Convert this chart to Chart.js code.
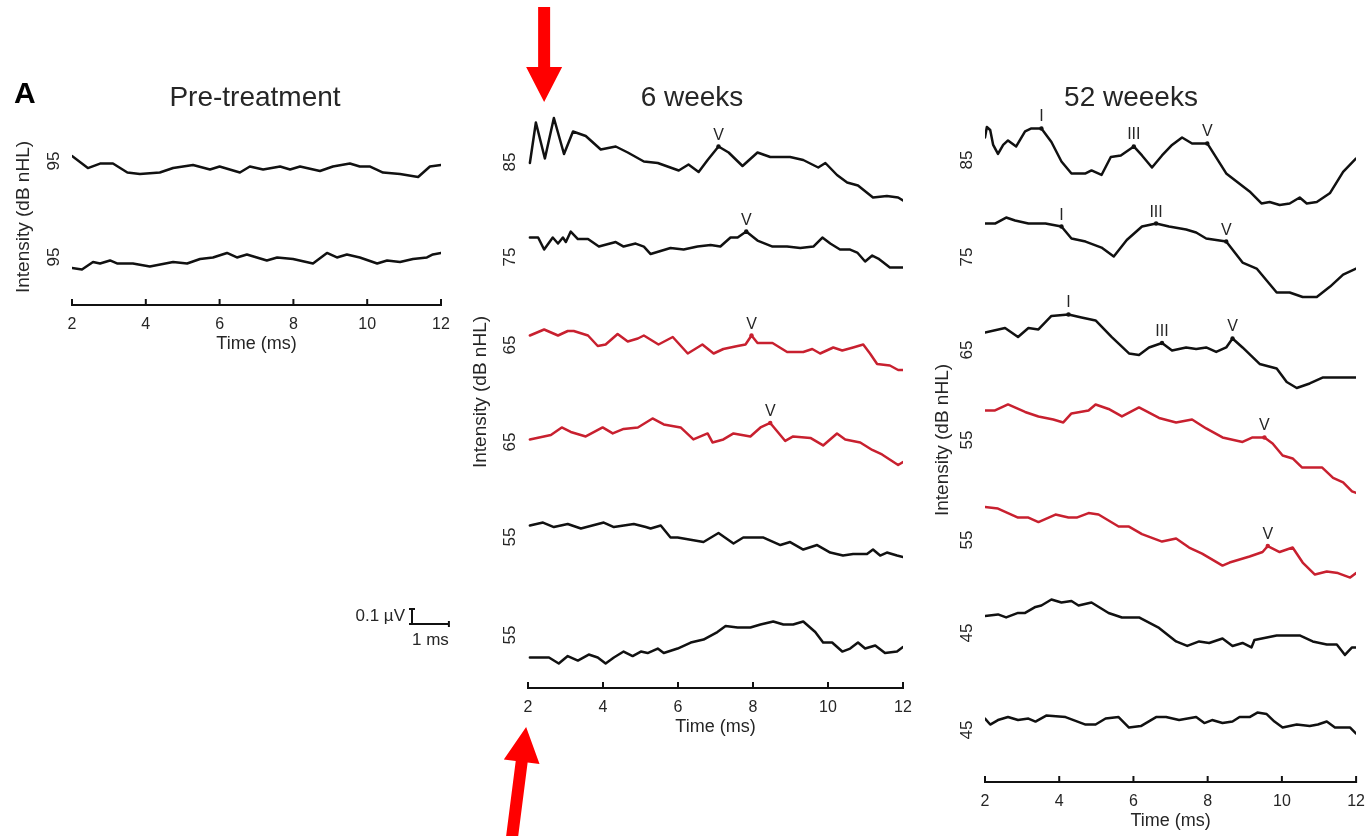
<!DOCTYPE html>
<html>
<head>
<meta charset="utf-8">
<script src="https://cdn.jsdelivr.net/npm/chart.js@4.4.1/dist/chart.umd.min.js"></script>
<style>
  body { margin: 0; background: #fff; width: 1367px; height: 836px; overflow: hidden; position: relative; }
  canvas { position: absolute; top: 0; }
</style>
</head>
<body>
<canvas id="pre" width="470" height="836" style="left:0px"></canvas>
<canvas id="w6" width="460" height="836" style="left:470px"></canvas>
<canvas id="w52" width="437" height="836" style="left:930px"></canvas>
<script>
// ABR waveforms, time in ms, amplitude in µV (relative to each trace's own baseline)

// Pre-treatment, 95 dB nHL (x2)
const PRE_A_T = [2.0, 2.43, 2.76, 3.11, 3.5, 3.84, 4.38, 4.74, 5.28, 5.74, 6.0, 6.55, 6.82, 7.18, 7.64, 7.91, 8.18, 8.72, 9.07, 9.53, 9.8, 10.08, 10.43, 10.89, 11.38, 11.7, 12.0];
const PRE_A_V = [0.08, 0, 0.03, 0.03, -0.03, -0.04, -0.03, 0, 0.02, -0.01, 0.01, -0.03, 0.01, -0.01, 0.01, -0.01, 0.01, -0.02, 0.01, 0.03, 0.01, 0.01, -0.03, -0.04, -0.06, 0.01, 0.02];
const PRE_B_T = [2.0, 2.27, 2.57, 2.76, 3.03, 3.22, 3.65, 4.11, 4.74, 5.12, 5.47, 5.82, 6.2, 6.47, 6.74, 7.28, 7.56, 7.99, 8.53, 8.91, 9.18, 9.45, 9.8, 10.27, 10.54, 10.89, 11.24, 11.62, 11.78, 12.0];
const PRE_B_V = [-0.04, -0.05, 0, -0.01, 0.01, -0.01, -0.01, -0.03, 0, -0.01, 0.02, 0.03, 0.06, 0.03, 0.05, 0.01, 0.03, 0.02, -0.01, 0.06, 0.03, 0.05, 0.03, -0.01, 0.01, 0, 0.02, 0.03, 0.05, 0.06];
const PRE_DB = ["95", "95"];

// 6 weeks
const W6_85_T = [2.05, 2.21, 2.45, 2.69, 2.96, 3.2, 3.54, 3.94, 4.34, 4.66, 5.09, 5.46, 6.02, 6.28, 6.55, 6.79, 7.08, 7.35, 7.72, 8.12, 8.46, 8.99, 9.34, 9.74, 9.93, 10.24, 10.51, 10.8, 11.2, 11.57, 11.87, 12.0];
const W6_85_V = [-0.02, 0.25, 0.01, 0.28, 0.04, 0.19, 0.16, 0.07, 0.09, 0.05, -0.01, -0.02, -0.07, -0.03, -0.08, 0, 0.09, 0.05, -0.04, 0.05, 0.02, 0.02, 0, -0.05, -0.02, -0.1, -0.15, -0.17, -0.25, -0.24, -0.25, -0.27];
const W6_75_T = [2.05, 2.27, 2.43, 2.66, 2.8, 2.93, 3.01, 3.14, 3.33, 3.6, 3.89, 4.34, 4.55, 4.87, 5.09, 5.27, 5.8, 6.15, 6.52, 6.87, 7.13, 7.4, 7.59, 7.82, 8.12, 8.52, 8.91, 9.26, 9.61, 9.85, 10.06, 10.32, 10.59, 10.78, 10.99, 11.18, 11.34, 11.65, 12.0];
const W6_75_V = [0.05, 0.05, -0.03, 0.05, 0.01, 0.05, 0.02, 0.09, 0.04, 0.04, -0.01, 0.02, -0.01, 0.01, -0.01, -0.06, -0.02, -0.03, -0.01, 0, -0.01, 0.05, 0.05, 0.09, 0.03, -0.01, -0.01, -0.02, -0.01, 0.05, 0.01, -0.03, -0.03, -0.05, -0.11, -0.07, -0.09, -0.15, -0.15];
const W6_65A_T = [2.05, 2.43, 2.8, 3.06, 3.22, 3.6, 3.86, 4.07, 4.39, 4.66, 4.93, 5.09, 5.48, 5.86, 6.26, 6.65, 6.95, 7.21, 7.59, 7.8, 7.96, 8.12, 8.52, 8.91, 9.34, 9.58, 9.79, 10.14, 10.38, 10.67, 10.94, 11.12, 11.31, 11.65, 11.87, 12.0];
const W6_65A_V = [0.03, 0.07, 0.03, 0.06, 0.06, 0.03, -0.04, -0.03, 0.04, -0.01, 0.01, 0.03, -0.03, 0.02, -0.09, -0.03, -0.09, -0.06, -0.04, -0.03, 0.03, -0.02, -0.02, -0.08, -0.08, -0.06, -0.09, -0.05, -0.07, -0.05, -0.03, -0.09, -0.16, -0.17, -0.2, -0.2];
const W6_65B_T = [2.05, 2.61, 2.9, 3.14, 3.54, 3.99, 4.26, 4.55, 4.93, 5.32, 5.62, 6.07, 6.41, 6.79, 6.92, 7.21, 7.48, 7.93, 8.2, 8.46, 8.86, 9.07, 9.53, 9.87, 10.24, 10.46, 10.86, 11.18, 11.44, 11.87, 12.0];
const W6_65B_V = [-0.03, 0, 0.05, 0.02, -0.01, 0.05, 0.01, 0.04, 0.05, 0.11, 0.07, 0.05, -0.03, 0.01, -0.05, -0.03, 0.01, -0.01, 0.05, 0.08, -0.04, -0.01, -0.02, -0.07, 0.01, -0.03, -0.05, -0.1, -0.13, -0.2, -0.18];
const W6_55A_T = [2.05, 2.4, 2.69, 3.06, 3.41, 4.02, 4.29, 4.82, 5.14, 5.27, 5.54, 5.8, 5.99, 6.68, 7.08, 7.48, 7.74, 8.01, 8.28, 8.73, 8.99, 9.34, 9.71, 10.06, 10.4, 10.67, 11.04, 11.2, 11.39, 11.57, 11.84, 12.0];
const W6_55A_V = [0.03, 0.05, 0.02, 0.04, 0.01, 0.05, 0.02, 0.04, 0.02, 0.01, 0.03, -0.05, -0.05, -0.08, -0.02, -0.09, -0.05, -0.05, -0.05, -0.1, -0.08, -0.13, -0.1, -0.15, -0.17, -0.16, -0.16, -0.13, -0.17, -0.15, -0.17, -0.18];
const W6_55B_T = [2.05, 2.56, 2.82, 3.06, 3.33, 3.62, 3.86, 4.07, 4.29, 4.55, 4.79, 5.01, 5.19, 5.46, 5.62, 5.99, 6.34, 6.68, 7.05, 7.27, 7.59, 7.93, 8.2, 8.54, 8.81, 9.07, 9.34, 9.66, 9.87, 10.11, 10.38, 10.59, 10.8, 10.99, 11.26, 11.52, 11.84, 12.0];
const W6_55B_V = [-0.05, -0.05, -0.09, -0.04, -0.07, -0.03, -0.05, -0.09, -0.05, -0.01, -0.04, -0.01, -0.02, 0.01, -0.02, 0.01, 0.05, 0.07, 0.12, 0.16, 0.15, 0.15, 0.17, 0.19, 0.17, 0.17, 0.19, 0.12, 0.05, 0.05, -0.01, 0.01, 0.05, 0.01, 0.03, -0.02, -0.01, 0.02];
const W6_DB = ["85", "75", "65", "65", "55", "55"];

// 52 weeks
const W52_85_T = [2.0, 2.05, 2.14, 2.22, 2.35, 2.49, 2.62, 2.84, 3.08, 3.25, 3.52, 3.79, 4.06, 4.33, 4.71, 4.87, 5.14, 5.39, 5.66, 6.01, 6.23, 6.5, 6.77, 7.04, 7.31, 7.58, 7.99, 8.5, 9.13, 9.45, 9.67, 9.94, 10.21, 10.48, 10.67, 10.94, 11.3, 11.65, 12.0];
const W52_85_V = [0.15, 0.22, 0.2, 0.1, 0.04, 0.1, 0.13, 0.09, 0.19, 0.21, 0.21, 0.12, -0.01, -0.09, -0.09, -0.07, -0.1, 0.02, 0.03, 0.09, 0.03, -0.05, 0.03, 0.1, 0.15, 0.11, 0.11, -0.09, -0.21, -0.29, -0.28, -0.3, -0.29, -0.25, -0.29, -0.28, -0.22, -0.08, 0.01];
const W52_75_T = [2.0, 2.27, 2.57, 2.81, 3.17, 3.63, 4.06, 4.33, 4.71, 5.14, 5.47, 5.82, 6.23, 6.61, 6.96, 7.42, 7.69, 7.96, 8.5, 8.94, 9.32, 9.86, 10.21, 10.56, 10.94, 11.3, 11.65, 12.0];
const W52_75_V = [0.11, 0.11, 0.15, 0.13, 0.11, 0.11, 0.09, 0.01, -0.01, -0.05, -0.11, 0, 0.09, 0.11, 0.09, 0.07, 0.05, 0.01, -0.01, -0.15, -0.19, -0.35, -0.35, -0.38, -0.38, -0.31, -0.23, -0.19];
const W52_65_T = [2.0, 2.54, 2.89, 3.17, 3.44, 3.79, 4.25, 4.6, 4.98, 5.41, 5.88, 6.15, 6.42, 6.77, 7.04, 7.42, 7.69, 7.96, 8.23, 8.5, 8.67, 8.94, 9.4, 9.86, 10.13, 10.4, 10.75, 11.11, 11.57, 12.0];
const W52_65_V = [0.05, 0.08, 0.02, 0.08, 0.07, 0.16, 0.17, 0.15, 0.13, 0.02, -0.09, -0.1, -0.05, -0.02, -0.07, -0.05, -0.06, -0.05, -0.08, -0.05, 0.01, -0.05, -0.16, -0.19, -0.28, -0.32, -0.29, -0.25, -0.25, -0.25];
const W52_55A_T = [2.0, 2.27, 2.62, 3.08, 3.44, 3.84, 4.11, 4.33, 4.79, 4.98, 5.33, 5.69, 6.15, 6.69, 7.15, 7.58, 7.96, 8.4, 8.94, 9.21, 9.53, 9.75, 10.02, 10.29, 10.54, 10.75, 11.08, 11.38, 11.65, 11.89, 12.0];
const W52_55A_V = [0.13, 0.13, 0.17, 0.12, 0.09, 0.07, 0.05, 0.11, 0.13, 0.17, 0.14, 0.09, 0.15, 0.08, 0.05, 0.07, 0.01, -0.05, -0.08, -0.05, -0.05, -0.09, -0.17, -0.19, -0.25, -0.25, -0.25, -0.32, -0.35, -0.41, -0.42];
const W52_55B_T = [2.0, 2.35, 2.89, 3.17, 3.44, 3.9, 4.25, 4.47, 4.79, 5.06, 5.6, 5.88, 6.23, 6.77, 7.15, 7.5, 7.85, 8.4, 8.59, 9.13, 9.48, 9.62, 9.94, 10.29, 10.56, 10.89, 11.21, 11.51, 11.84, 12.0];
const W52_55B_V = [0.12, 0.11, 0.05, 0.05, 0.02, 0.07, 0.05, 0.05, 0.08, 0.07, -0.01, -0.01, -0.06, -0.11, -0.09, -0.15, -0.19, -0.27, -0.25, -0.21, -0.18, -0.14, -0.18, -0.15, -0.25, -0.33, -0.31, -0.32, -0.35, -0.32];
const W52_45A_T = [2.0, 2.35, 2.57, 2.89, 3.08, 3.36, 3.52, 3.79, 4.06, 4.33, 4.52, 4.87, 5.33, 5.69, 6.15, 6.69, 7.15, 7.45, 7.77, 8.04, 8.4, 8.67, 8.94, 9.18, 9.26, 9.86, 10.21, 10.48, 10.83, 11.21, 11.48, 11.7, 11.89, 12.0];
const W52_45A_V = [0.06, 0.07, 0.05, 0.08, 0.08, 0.12, 0.13, 0.17, 0.15, 0.16, 0.13, 0.15, 0.08, 0.05, 0.05, -0.02, -0.11, -0.14, -0.11, -0.12, -0.09, -0.14, -0.12, -0.15, -0.1, -0.07, -0.07, -0.07, -0.11, -0.13, -0.13, -0.2, -0.15, -0.15];
const W52_45B_T = [2.0, 2.14, 2.35, 2.62, 2.89, 3.17, 3.36, 3.65, 4.17, 4.71, 4.98, 5.25, 5.6, 5.88, 6.2, 6.61, 6.88, 7.23, 7.69, 7.91, 8.12, 8.4, 8.67, 8.86, 9.13, 9.34, 9.59, 9.8, 10.02, 10.4, 10.75, 10.97, 11.21, 11.43, 11.84, 12.0];
const W52_45B_V = [0.01, -0.03, 0, 0.02, 0, 0.01, -0.01, 0.03, 0.02, -0.03, -0.03, 0.01, 0.02, -0.05, -0.04, 0.02, 0.02, 0, 0.02, -0.02, 0, -0.02, -0.01, 0.02, 0.02, 0.05, 0.04, -0.01, -0.05, -0.03, -0.04, -0.03, -0.01, -0.05, -0.05, -0.09];
const W52_DB = ["85", "75", "65", "55", "55", "45", "45"];

const X_TICKS_STEP = 2;
const PX_PER_UV = 150;          // vertical gain: 0.1 µV = 15 px
const FONT = '"Liberation Sans", Arial, Helvetica, sans-serif';
const INK = "#262626";
const BLACK = "#111111";
const RED = "#c8202f";
const ARROW = "#ff0000";
const X_AXIS_H = 50;
const Y_TITLE_SIZE = 19;
const Y_TITLE_HALF = Y_TITLE_SIZE * 1.2 / 2;

function decor(p) {
  return {
    id: "decor_" + p.id,
    afterDraw(chart) {
      const ctx = chart.ctx, xs = chart.scales.x, ys = chart.scales.y;
      ctx.save();
      // inward ticks on the time axis
      ctx.strokeStyle = BLACK;
      ctx.lineWidth = 2;
      xs.ticks.forEach(tk => {
        const px = xs.getPixelForValue(tk.value);
        ctx.beginPath();
        ctx.moveTo(px, xs.top + 1);
        ctx.lineTo(px, xs.top - 6);
        ctx.stroke();
      });
      // panel title
      ctx.fillStyle = INK;
      ctx.font = "28px " + FONT;
      ctx.textAlign = "center";
      ctx.textBaseline = "alphabetic";
      ctx.fillText(p.title, p.titleCx - p.left, 106);
      // wave labels I / III / V
      ctx.font = "16px " + FONT;
      chart.data.datasets.forEach(ds => {
        ds.peaks.forEach(([name, t]) => {
          const pt = ds.data.find(d => d.x === t);
          if (!pt) return;
          ctx.fillText(name, xs.getPixelForValue(pt.x), ys.getPixelForValue(pt.y) - 7);
        });
      });
      if (p.extra) p.extra(chart, ctx, xs, ys);
      ctx.restore();
    }
  };
}

const panels = [
  {
    id: "pre", left: 0, width: 470, title: "Pre-treatment", titleCx: 255,
    area: { l: 72, r: 441, t: 129, b: 305 }, titleX: 24, labelX: 53,
    labels: PRE_DB, labelPos: [0.96, 0.32],
    traces: [
      { t: PRE_A_T, v: PRE_A_V, off: 0.913 },
      { t: PRE_B_T, v: PRE_B_V, off: 0.287 }
    ],
    extra(chart, ctx, xs, ys) {
      ctx.fillStyle = "#000";
      ctx.font = "bold 30px " + FONT;
      ctx.textAlign = "left";
      ctx.fillText("A", 14, 103);
      // scale bar 0.1 µV / 1 ms
      const bx = 412, by = 624;
      const w = xs.getPixelForValue(3) - xs.getPixelForValue(2);
      const h = ys.getPixelForValue(0) - ys.getPixelForValue(0.1);
      ctx.strokeStyle = BLACK;
      ctx.lineWidth = 2;
      ctx.beginPath();
      ctx.moveTo(bx, by); ctx.lineTo(bx, by - h);
      ctx.moveTo(bx - 3, by - h); ctx.lineTo(bx + 3, by - h);
      ctx.moveTo(bx - 3, by); ctx.lineTo(bx + w, by);
      ctx.moveTo(bx + w, by - 3); ctx.lineTo(bx + w, by + 3);
      ctx.stroke();
      ctx.fillStyle = INK;
      ctx.font = "17px " + FONT;
      ctx.textAlign = "right";
      ctx.textBaseline = "middle";
      ctx.fillText("0.1 µV", bx - 7, by - 8);
      ctx.textAlign = "center";
      ctx.fillText("1 ms", bx + w / 2, by + 16);
    }
  },
  {
    id: "w6", left: 470, width: 460, title: "6 weeks", titleCx: 692,
    area: { l: 528, r: 903, t: 96, b: 688 }, titleX: 481, labelX: 509,
    labels: W6_DB, labelPos: [3.507, 2.873, 2.287, 1.64, 1.007, 0.353],
    traces: [
      { t: W6_85_T, v: W6_85_V, off: 3.52, peaks: [["V", 7.08]] },
      { t: W6_75_T, v: W6_75_V, off: 2.953, peaks: [["V", 7.82]] },
      { t: W6_65A_T, v: W6_65A_V, off: 2.32, red: true, peaks: [["V", 7.96]] },
      { t: W6_65B_T, v: W6_65B_V, off: 1.687, red: true, peaks: [["V", 8.46]] },
      { t: W6_55A_T, v: W6_55A_V, off: 1.053 },
      { t: W6_55B_T, v: W6_55B_V, off: 0.253 }
    ],
    extra(chart, ctx, xs) {
      ctx.fillStyle = ARROW;
      // arrow from the top onto the stimulus artefact
      const cx = xs.getPixelForValue(2.43);
      ctx.beginPath();
      ctx.moveTo(cx - 6, 7); ctx.lineTo(cx + 6, 7); ctx.lineTo(cx + 6, 67);
      ctx.lineTo(cx + 18, 67); ctx.lineTo(cx, 102); ctx.lineTo(cx - 18, 67);
      ctx.lineTo(cx - 6, 67);
      ctx.closePath();
      ctx.fill();
      // arrow from below onto the 2 ms tick
      const tx = xs.getPixelForValue(1.95), ty = 727;
      const ux = 0.127, uy = -0.992, nx = 0.992, ny = 0.127;
      const hx = tx - 35 * ux, hy = ty - 35 * uy;
      const ex = hx - 90 * ux, ey = hy - 90 * uy;
      ctx.beginPath();
      ctx.moveTo(tx, ty);
      ctx.lineTo(hx + 18 * nx, hy + 18 * ny);
      ctx.lineTo(hx + 6 * nx, hy + 6 * ny);
      ctx.lineTo(ex + 6 * nx, ey + 6 * ny);
      ctx.lineTo(ex - 6 * nx, ey - 6 * ny);
      ctx.lineTo(hx - 6 * nx, hy - 6 * ny);
      ctx.lineTo(hx - 18 * nx, hy - 18 * ny);
      ctx.closePath();
      ctx.fill();
    }
  },
  {
    id: "w52", left: 930, width: 437, title: "52 weeeks", titleCx: 1131,
    area: { l: 985, r: 1358, t: 98, b: 782 }, titleX: 943, labelX: 966,
    labels: W52_DB, labelPos: [4.147, 3.5, 2.88, 2.28, 1.613, 0.993, 0.347],
    traces: [
      { t: W52_85_T, v: W52_85_V, off: 4.147, peaks: [["I", 3.52], ["III", 6.01], ["V", 7.99]] },
      { t: W52_75_T, v: W52_75_V, off: 3.613, peaks: [["I", 4.06], ["III", 6.61], ["V", 8.5]] },
      { t: W52_65_T, v: W52_65_V, off: 2.947, peaks: [["I", 4.25], ["III", 6.77], ["V", 8.67]] },
      { t: W52_55A_T, v: W52_55A_V, off: 2.347, red: true, peaks: [["V", 9.53]] },
      { t: W52_55B_T, v: W52_55B_V, off: 1.713, red: true, peaks: [["V", 9.62]] },
      { t: W52_45A_T, v: W52_45A_V, off: 1.047 },
      { t: W52_45B_T, v: W52_45B_V, off: 0.413 }
    ]
  }
];

function build(p) {
  const padLeft = p.titleX - Y_TITLE_HALF - p.left;
  const datasets = p.traces.map(tr => {
    const peaks = tr.peaks || [];
    return {
      data: tr.t.map((t, i) => ({ x: t, y: tr.off + tr.v[i] })),
      borderColor: tr.red ? RED : BLACK,
      backgroundColor: tr.red ? RED : BLACK,
      borderWidth: 2.5,
      borderJoinStyle: "round",
      borderCapStyle: "round",
      pointRadius: tr.t.map(t => peaks.some(pk => pk[1] === t) ? 2.2 : 0),
      pointBorderWidth: 0,
      tension: 0,
      fill: false,
      peaks: peaks
    };
  });

  new Chart(document.getElementById(p.id), {
    type: "line",
    data: { datasets },
    options: {
      responsive: false,
      animation: false,
      devicePixelRatio: 1,
      events: [],
      layout: {
        padding: {
          left: padLeft,
          right: p.left + p.width - p.area.r,
          top: p.area.t,
          bottom: 836 - p.area.b - X_AXIS_H
        }
      },
      plugins: { legend: { display: false }, tooltip: { enabled: false }, title: { display: false } },
      scales: {
        x: {
          type: "linear", min: 2, max: 12,
          grid: { display: false },
          border: { display: true, color: BLACK, width: 2 },
          ticks: { stepSize: X_TICKS_STEP, padding: 2, color: INK, maxRotation: 0, autoSkip: false,
                   font: { family: FONT, size: 16 } },
          title: { display: true, text: "Time (ms)", color: INK, padding: 0, font: { family: FONT, size: 18 } },
          afterFit: s => { s.height = X_AXIS_H; }
        },
        y: {
          type: "linear", min: 0, max: (p.area.b - p.area.t) / PX_PER_UV,
          grid: { display: false },
          border: { display: false },
          afterBuildTicks: s => { s.ticks = p.labelPos.map(v => ({ value: v })); },
          ticks: {
            autoSkip: false, minRotation: 90, maxRotation: 90, crossAlign: "center",
            padding: p.area.l - p.labelX - 18.45, color: INK,
            font: { family: FONT, size: 17 },
            callback: v => p.labels[p.labelPos.indexOf(v)]
          },
          title: { display: true, text: "Intensity (dB nHL)", color: INK, padding: 0,
                   font: { family: FONT, size: Y_TITLE_SIZE } },
          afterFit: s => { s.width = p.area.l - p.left - padLeft; }
        }
      }
    },
    plugins: [decor(p)]
  });
}

panels.forEach(build);
</script>
</body>
</html>
